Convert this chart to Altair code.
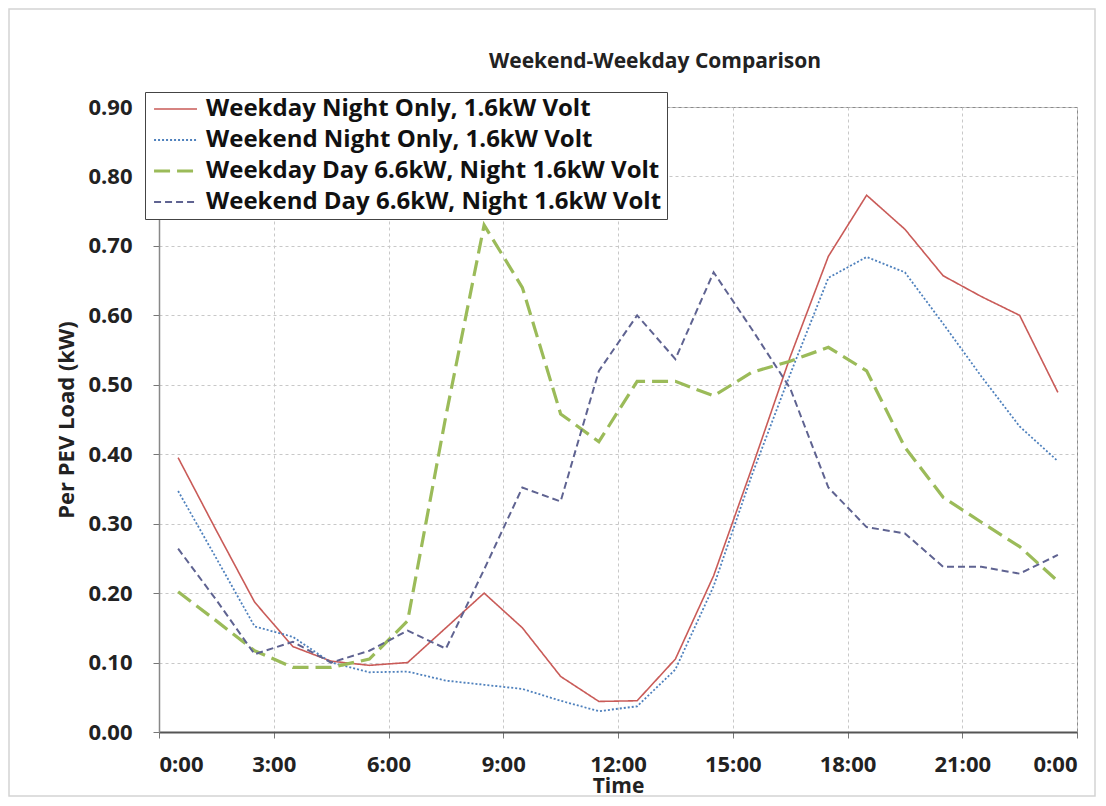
import altair as alt
import pandas as pd

hours = [h + 0.5 for h in range(24)]

series_names = [
    "Weekday Night Only, 1.6kW Volt",
    "Weekend Night Only, 1.6kW Volt",
    "Weekday Day 6.6kW, Night 1.6kW Volt",
    "Weekend Day 6.6kW, Night 1.6kW Volt",
]

weekday_night = [0.395, 0.290, 0.187, 0.123, 0.102, 0.096, 0.100, 0.150, 0.200, 0.150, 0.080, 0.044,
                 0.045, 0.105, 0.225, 0.380, 0.540, 0.685, 0.773, 0.724, 0.657, 0.627, 0.600, 0.489]
weekend_night = [0.347, 0.250, 0.152, 0.137, 0.100, 0.086, 0.087, 0.074, 0.068, 0.062, 0.045, 0.030,
                 0.037, 0.090, 0.210, 0.370, 0.515, 0.654, 0.684, 0.662, 0.588, 0.512, 0.440, 0.390]
weekday_day = [0.202, 0.160, 0.117, 0.093, 0.093, 0.105, 0.160, 0.455, 0.730, 0.640, 0.458, 0.418,
               0.505, 0.505, 0.484, 0.518, 0.534, 0.554, 0.520, 0.410, 0.338, 0.302, 0.267, 0.217]
weekend_day = [0.264, 0.190, 0.112, 0.130, 0.100, 0.117, 0.146, 0.120, 0.234, 0.352, 0.332, 0.520,
               0.600, 0.537, 0.662, 0.580, 0.495, 0.352, 0.295, 0.286, 0.238, 0.238, 0.228, 0.255]

x_ticks = [0, 3, 6, 9, 12, 15, 18, 21, 24]
y_ticks = [0.0, 0.1, 0.2, 0.3, 0.4, 0.5, 0.6, 0.7, 0.8, 0.9]

colors = ["#C95B58", "#4F81BD", "#9BBB59", "#5F6391"]
dashes = [[1, 0], [2, 2], [16, 7], [7, 4]]
widths = [1.6, 1.8, 3.2, 2.0]

rows = []
for name, vals in zip(series_names, [weekday_night, weekend_night, weekday_day, weekend_day]):
    for h, v in zip(hours, vals):
        rows.append({"series": name, "hour": h, "load": v})
df = pd.DataFrame(rows)

FONT = "Open Sans"

legend = alt.Legend(
    title=None, orient="none", legendX=-14, legendY=-15,
    symbolType="M-1,0H4.4", symbolSize=253, labelFontSize=24, labelFont=FONT,
    labelFontWeight="bold", labelColor="#111", labelLimit=800, labelOffset=32,
    rowPadding=7, padding=5, strokeColor="#444", fillColor="white",
    symbolStrokeWidth=1.6, offset=0,
)

lines = alt.Chart(df).mark_line().encode(
    x=alt.X("hour:Q", scale=alt.Scale(domain=[0, 24], nice=False),
            axis=alt.Axis(values=x_ticks, labelExpr="(datum.value % 24) + ':00'", title="Time",
                          titleX=459, titleY=60, titleBaseline="alphabetic", titleFontSize=21)),
    y=alt.Y("load:Q", scale=alt.Scale(domain=[0, 0.9], nice=False),
            axis=alt.Axis(values=y_ticks, format=".2f", title="Per PEV Load (kW)",
                          titleX=-93, titleBaseline="middle", titleAngle=270)),
    color=alt.Color("series:N", scale=alt.Scale(domain=series_names, range=colors), legend=legend,
                    sort=series_names),
    strokeDash=alt.StrokeDash("series:N", scale=alt.Scale(domain=series_names, range=dashes),
                              legend=legend, sort=series_names),
    strokeWidth=alt.StrokeWidth("series:N", scale=alt.Scale(type="ordinal", domain=series_names, range=widths),
                                legend=legend, sort=series_names),
)

frame = alt.Chart(pd.DataFrame({"a": [0]})).mark_rect(fillOpacity=0, stroke="#d4d4d4", strokeWidth=1.5).encode(
    x=alt.value(-150), x2=alt.value(936), y=alt.value(-98), y2=alt.value(689)
)

chart = alt.layer(frame, lines).properties(
    width=918, height=625,
    title=alt.TitleParams("Weekend-Weekday Comparison", font=FONT, fontSize=21, fontWeight="bold",
                          color="#222", dx=37, dy=105, offset=24, anchor="middle", baseline="alphabetic"),
    autosize=alt.AutoSizeParams(type="none"),
    padding={"left": 151, "top": 99, "right": 20, "bottom": 66},
).configure_view(stroke="#8a8a8a", strokeWidth=1).configure_axis(
    labelFont=FONT, labelFontSize=22, labelFontWeight="bold", labelColor="#222",
    titleFont=FONT, titleFontSize=22, titleFontWeight="bold", titleColor="#222",
    gridColor="#c8c8c8", gridDash=[3, 3], gridWidth=1,
    tickColor="#777", tickSize=6,
).configure_axisX(
    domainColor="#555", domainWidth=2, labelPadding=16,
).configure_axisY(
    domainColor="#888", domainWidth=1.5, labelPadding=21,
)

chart.save("out.html", embed_options={"renderer": "svg", "actions": False})
